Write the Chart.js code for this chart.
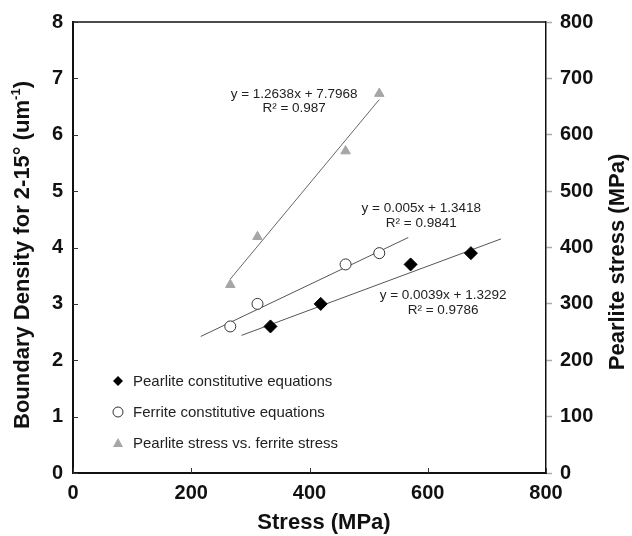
<!DOCTYPE html>
<html>
<head>
<meta charset="utf-8">
<script src="https://cdn.jsdelivr.net/npm/chart.js@4.4.1/dist/chart.umd.min.js"></script>
<style>
  html, body { margin: 0; padding: 0; background: #fff; }
  #wrap { width: 632px; height: 536px; }
</style>
</head>
<body>
<div id="wrap"><canvas id="myChart" width="632" height="536"></canvas></div>
<script>
// data
const ferriteStress = [266, 312, 461, 518];
const pearliteStress = [334, 419, 571, 673];
const boundaryDensity = [2.6, 3.0, 3.7, 3.9];

const seriesNames = [
  'Pearlite constitutive equations',
  'Ferrite constitutive equations',
  'Pearlite stress vs. ferrite stress'
];

// fitted lines as printed on the chart (slope, intercept, x range)
const trendSlopes = [0.0039, 0.005, 1.2638];
const trendIntercepts = [1.3292, 1.3418, 7.7968];
const trendFrom = [285, 216, 266];
const trendTo = [724, 567, 518];
const trendEq = ['y = 0.0039x + 1.3292', 'y = 0.005x + 1.3418', 'y = 1.2638x + 7.7968'];
const trendR2 = ['R² = 0.9786', 'R² = 0.9841', 'R² = 0.987'];

const FONT = 'Arial, "Liberation Sans", sans-serif';

// where the equation text sits (x in MPa, y in left axis units)
const eqAnchors = [
  { x: 626, y: 3.15 },
  { x: 589, y: 4.69 },
  { x: 374, y: 6.72 }
];

const trendLine = (i) => [
  { x: trendFrom[i], y: trendSlopes[i] * trendFrom[i] + trendIntercepts[i] },
  { x: trendTo[i], y: trendSlopes[i] * trendTo[i] + trendIntercepts[i] }
];

function marker(ctx, style, cx, cy, r) {
  ctx.beginPath();
  if (style === 'diamond') {
    ctx.moveTo(cx, cy - r); ctx.lineTo(cx + r, cy); ctx.lineTo(cx, cy + r); ctx.lineTo(cx - r, cy);
    ctx.closePath();
    ctx.fillStyle = '#000'; ctx.fill();
  } else if (style === 'circle') {
    ctx.arc(cx, cy, r, 0, Math.PI * 2);
    ctx.fillStyle = '#fff'; ctx.fill();
    ctx.strokeStyle = '#333'; ctx.lineWidth = 1; ctx.stroke();
  } else {
    ctx.moveTo(cx, cy - r); ctx.lineTo(cx + r, cy + r * 0.8); ctx.lineTo(cx - r, cy + r * 0.8);
    ctx.closePath();
    ctx.fillStyle = '#a6a6a6'; ctx.fill();
  }
}

const decor = {
  id: 'decor',
  afterDraw(chart) {
    const { ctx, chartArea: a, scales } = chart;
    const sx = scales.x, sy = scales.y;
    ctx.save();

    // top frame
    ctx.strokeStyle = '#111';
    ctx.lineWidth = 1.5;
    ctx.beginPath(); ctx.moveTo(a.left, a.top); ctx.lineTo(a.right, a.top); ctx.stroke();

    // inward ticks on left and bottom
    ctx.strokeStyle = '#333';
    ctx.lineWidth = 1;
    sx.ticks.forEach(t => {
      const px = Math.round(sx.getPixelForValue(t.value)) + 0.5;
      ctx.beginPath(); ctx.moveTo(px, a.bottom); ctx.lineTo(px, a.bottom - 5); ctx.stroke();
    });
    sy.ticks.forEach(t => {
      const py = Math.round(sy.getPixelForValue(t.value)) + 0.5;
      ctx.beginPath(); ctx.moveTo(a.left, py); ctx.lineTo(a.left + 5, py); ctx.stroke();
    });

    // equations
    ctx.fillStyle = '#222';
    ctx.font = '13.5px ' + FONT;
    ctx.textAlign = 'center';
    ctx.textBaseline = 'middle';
    eqAnchors.forEach((p, i) => {
      const px = sx.getPixelForValue(p.x), py = sy.getPixelForValue(p.y);
      ctx.fillText(trendEq[i], px, py);
      ctx.fillText(trendR2[i], px, py + 14.5);
    });

    // legend inside the plot
    const styles = ['diamond', 'circle', 'triangle'];
    const rows = [92, 61, 30];
    ctx.font = '15px ' + FONT;
    ctx.textAlign = 'left';
    seriesNames.forEach((name, i) => {
      const cy = a.bottom - rows[i];
      marker(ctx, styles[i], a.left + 45, cy, 5);
      ctx.fillStyle = '#222';
      ctx.fillText(name, a.left + 60, cy + 1);
    });

    // axis titles
    ctx.fillStyle = '#111';
    ctx.font = 'bold 22px ' + FONT;
    ctx.textAlign = 'center';
    ctx.textBaseline = 'middle';
    ctx.fillText('Stress (MPa)', 324, 523);

    // left title with superscript
    const main = 'Boundary Density for 2-15\u00b0 (um', sup = '-1', tail = ')';
    const fBig = 'bold 22px ' + FONT, fSmall = 'bold 13px ' + FONT;
    ctx.font = fBig;
    const w1 = ctx.measureText(main).width, w3 = ctx.measureText(tail).width;
    ctx.font = fSmall;
    const w2 = ctx.measureText(sup).width;
    ctx.save();
    ctx.translate(22, 255);
    ctx.rotate(-Math.PI / 2);
    ctx.textAlign = 'left';
    ctx.textBaseline = 'alphabetic';
    let ox = -(w1 + w2 + w3) / 2;
    ctx.font = fBig; ctx.fillText(main, ox, 7); ox += w1;
    ctx.font = fSmall; ctx.fillText(sup, ox, -2); ox += w2;
    ctx.font = fBig; ctx.fillText(tail, ox, 7);
    ctx.restore();

    // right title
    ctx.save();
    ctx.translate(617, 262);
    ctx.rotate(-Math.PI / 2);
    ctx.font = fBig;
    ctx.textAlign = 'center';
    ctx.textBaseline = 'alphabetic';
    ctx.fillText('Pearlite stress (MPa)', 0, 7);
    ctx.restore();

    ctx.restore();
  }
};

const tickFont = { family: FONT, size: 20, weight: 'bold' };

new Chart(document.getElementById('myChart'), {
  type: 'scatter',
  data: {
    datasets: [
      {
        label: seriesNames[0],
        data: pearliteStress.map((v, i) => ({ x: v, y: boundaryDensity[i] })),
        pointStyle: 'rectRot',
        pointRadius: 6.5,
        backgroundColor: '#000',
        borderColor: '#000',
        borderWidth: 1,
        yAxisID: 'y',
        order: 1
      },
      {
        label: seriesNames[1],
        data: ferriteStress.map((v, i) => ({ x: v, y: boundaryDensity[i] })),
        pointStyle: 'circle',
        pointRadius: 5.5,
        backgroundColor: '#fff',
        borderColor: '#333',
        borderWidth: 1,
        yAxisID: 'y',
        order: 1
      },
      {
        label: seriesNames[2],
        data: ferriteStress.map((v, i) => ({ x: v, y: pearliteStress[i] })),
        pointStyle: 'triangle',
        pointRadius: 5.5,
        backgroundColor: '#a6a6a6',
        borderColor: '#a6a6a6',
        borderWidth: 1,
        yAxisID: 'y2',
        order: 1
      },
      { data: trendLine(0), showLine: true, pointRadius: 0, borderColor: '#555', borderWidth: 1, yAxisID: 'y', order: 2 },
      { data: trendLine(1), showLine: true, pointRadius: 0, borderColor: '#555', borderWidth: 1, yAxisID: 'y', order: 2 },
      { data: trendLine(2), showLine: true, pointRadius: 0, borderColor: '#666', borderWidth: 1, yAxisID: 'y2', order: 2 }
    ]
  },
  options: {
    responsive: false,
    animation: false,
    layout: { padding: { top: 19, left: 0, right: 0, bottom: 0 } },
    plugins: { legend: { display: false }, tooltip: { enabled: false } },
    scales: {
      x: {
        type: 'linear', position: 'bottom', min: 0, max: 800,
        afterFit(s) { s.height = 63; },
        ticks: { stepSize: 200, font: tickFont, color: '#111', padding: 8, maxRotation: 0 },
        grid: { display: false, drawTicks: false },
        border: { display: true, color: '#111', width: 2 }
      },
      y: {
        position: 'left', min: 0, max: 8,
        afterFit(s) { s.width = 73; },
        ticks: { stepSize: 1, font: tickFont, color: '#111', padding: 10 },
        grid: { display: false, drawTicks: false },
        border: { display: true, color: '#111', width: 2 }
      },
      y2: {
        position: 'right', min: 0, max: 800,
        afterFit(s) { s.width = 86; },
        ticks: { stepSize: 100, font: tickFont, color: '#111', padding: 8 },
        grid: { display: true, drawOnChartArea: false, drawTicks: true, tickLength: 6, tickColor: '#aaa', tickWidth: 1.5 },
        border: { display: true, color: '#111', width: 1.5 }
      }
    }
  },
  plugins: [decor]
});
</script>
</body>
</html>
